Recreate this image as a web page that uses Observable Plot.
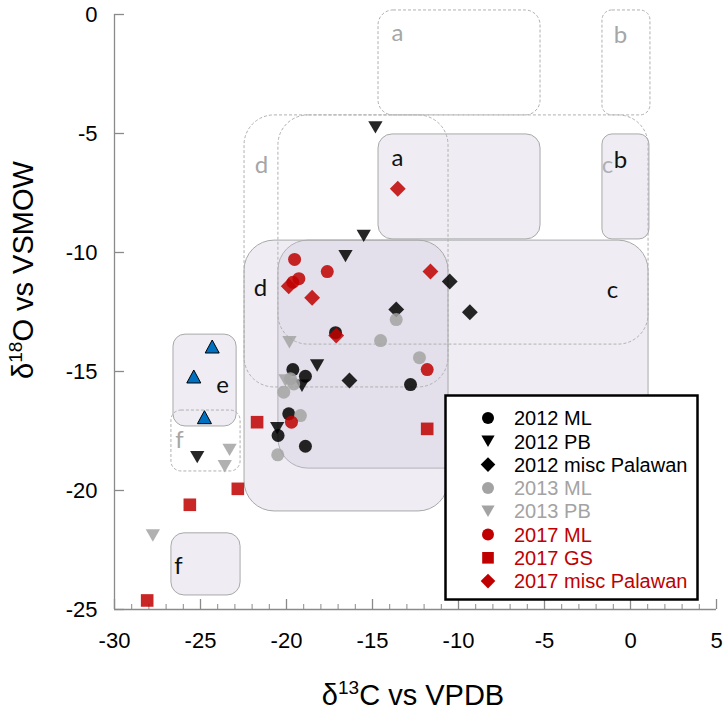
<!DOCTYPE html>
<html><head><meta charset="utf-8">
<script src="https://cdn.jsdelivr.net/npm/d3@7"></script>
<script src="https://cdn.jsdelivr.net/npm/@observablehq/plot@0.6"></script>
<style>
body{margin:0;background:#fff;}
#wrap{position:relative;width:724px;height:712px;}
</style></head><body><div id="wrap"></div>
<script>
// ---------- data ----------
const seriesNames = ["2012 ML","2012 PB","2012 misc Palawan","2013 ML","2013 PB","2017 ML","2017 GS","2017 misc Palawan"];
const seriesColors = ["#000000","#000000","#000000","#a3a3a3","#a3a3a3","#c00000","#c00000","#c00000"];
const seriesShapes = ["circle","triangleDown","diamond","circle","triangleDown","circle","square","diamond"];

const x2012ML = [-19.63,-18.90,-17.15,-12.79,-19.87,-20.49,-18.90];
const y2012ML = [-14.92,-15.20,-13.37,-15.55,-16.78,-17.69,-18.14];
const x2012PB = [-14.83,-15.51,-16.57,-18.22,-19.10,-20.54,-25.19];
const y2012PB = [-4.74,-9.30,-10.15,-14.75,-15.60,-17.38,-18.60];
const x2012misc = [-10.51,-9.34,-13.62,-16.34];
const y2012misc = [-11.22,-12.51,-12.39,-15.38];
const x2013ML = [-13.62,-14.53,-12.27,-19.77,-19.58,-20.16,-19.19,-20.51];
const y2013ML = [-12.82,-13.70,-14.42,-15.30,-15.52,-15.87,-16.85,-18.50];
const x2013PB = [-19.83,-20.06,-23.31,-23.59,-27.77];
const y2013PB = [-13.77,-15.38,-18.29,-18.98,-21.89];
const x2017ML = [-19.53,-17.63,-19.28,-19.63,-11.82,-19.71];
const y2017ML = [-10.29,-10.80,-11.10,-11.25,-14.92,-17.13];
const x2017GS = [-21.71,-11.82,-22.83,-25.62,-28.10];
const y2017GS = [-17.13,-17.41,-19.93,-20.60,-24.62];
const x2017misc = [-13.53,-11.63,-19.87,-18.51,-17.11];
const y2017misc = [-7.32,-10.80,-11.42,-11.90,-13.49];
const xBlue = [-24.32,-25.39,-24.77];
const yBlue = [-13.95,-15.21,-16.92];

const seriesX = [x2012ML,x2012PB,x2012misc,x2013ML,x2013PB,x2017ML,x2017GS,x2017misc];
const seriesY = [y2012ML,y2012PB,y2012misc,y2013ML,y2013PB,y2017ML,y2017GS,y2017misc];

// regions (solid = filled, dashed = outline only)
const solidNames = ["a","b","c","d","e","f"];
const solidX1 = [-14.65,-1.63,-20.47,-22.44,-26.57,-26.69];
const solidX2 = [-5.23,1.10,1.05,-10.58,-22.90,-22.67];
const solidY1 = [-9.45,-9.45,-19.08,-20.88,-17.31,-24.41];
const solidY2 = [-5.04,-5.04,-9.50,-9.50,-13.45,-21.80];
const solidR = [14,10,30,30,12,13];
const solidLabelX = [-13.55,-0.58,-1.05,-21.51,-23.72,-26.28];
const solidLabelY = [-6.05,-6.13,-11.60,-11.51,-15.59,-23.19];

const dashNames = ["a","b","c","d","f"];
const dashX1 = [-14.65,-1.63,-20.47,-22.44,-26.69];
const dashX2 = [-5.23,1.16,1.05,-10.58,-22.67];
const dashY1 = [-4.24,-4.24,-13.87,-15.67,-19.20];
const dashY2 = [0.17,0.17,-4.24,-4.24,-16.64];
const dashR = [15,10,30,30,10];
const dashLabelX = [-13.55,-0.58,-1.34,-21.45,-26.22];
const dashLabelY = [-0.80,-0.88,-6.34,-6.34,-17.90];

const xTicks = [-30,-25,-20,-15,-10,-5,0,5];
const xMinorTicks = [-29,-28,-27,-26,-24,-23,-22,-21,-19,-18,-17,-16,-14,-13,-12,-11,-9,-8,-7,-6,-4,-3,-2,-1,1,2,3,4];
const yTicks = [0,-5,-10,-15,-20,-25];

// ---------- symbols ----------
const sym = {
  circle:{draw(c,size){const s=Math.sqrt(size/Math.PI);c.moveTo(s,0);c.arc(0,0,s,0,2*Math.PI);}},
  triangleDown:{draw(c,size){const s=Math.sqrt(size/Math.PI),w=1.1*s,h=0.95*s;c.moveTo(-w,-h);c.lineTo(w,-h);c.lineTo(0,h);c.closePath();}},
  triangleUp:{draw(c,size){const s=Math.sqrt(size/Math.PI),w=1.08*s,h=1.0*s;c.moveTo(0,-h);c.lineTo(w,h);c.lineTo(-w,h);c.closePath();}},
  diamond:{draw(c,size){const s=Math.sqrt(size/Math.PI),d=1.22*s;c.moveTo(0,-d);c.lineTo(d,0);c.lineTo(0,d);c.lineTo(-d,0);c.closePath();}},
  square:{draw(c,size){const s=Math.sqrt(size/Math.PI),d=0.97*s;c.rect(-d,-d,2*d,2*d);}}
};

// ---------- tables ----------
const solid = solidNames.map((n,i)=>({n,x1:solidX1[i],x2:solidX2[i],y1:solidY1[i],y2:solidY2[i],r:solidR[i],lx:solidLabelX[i],ly:solidLabelY[i]}));
const dashed = dashNames.map((n,i)=>({n,x1:dashX1[i],x2:dashX2[i],y1:dashY1[i],y2:dashY2[i],r:dashR[i],lx:dashLabelX[i],ly:dashLabelY[i]}));
const series = seriesNames.map((name,i)=>({name,color:seriesColors[i],shape:seriesShapes[i],pts:seriesX[i].map((x,j)=>({x,y:seriesY[i][j]}))}));
const blue = xBlue.map((x,j)=>({x,y:yBlue[j]}));

const W=724,H=712,ML=114,MR=8,MT=14,MB=103;
const FW=W-ML-MR, FH=H-MT-MB;
const axisColor="#8a8a8a";
const labelFont="Lato, 'Open Sans', sans-serif";

const marks = [];
// gray labels of dashed regions (under the fills)
marks.push(Plot.text(dashed,{x:"lx",y:"ly",text:"n",fill:"#a6a6a6",fontSize:24,fontFamily:labelFont}));
// filled regions
solid.forEach(d=>marks.push(Plot.rect([d],{x1:"x1",x2:"x2",y1:"y1",y2:"y2",fill:"rgb(203,197,216)",fillOpacity:0.31,stroke:"#a8a8a8",strokeWidth:1,rx:d.r,ry:d.r})));
// dashed regions
dashed.forEach(d=>marks.push(Plot.rect([d],{x1:"x1",x2:"x2",y1:"y1",y2:"y2",fill:"none",stroke:"#b0b0b0",strokeWidth:1,strokeDasharray:"3,2",rx:d.r,ry:d.r})));
// black labels
marks.push(Plot.text(solid,{x:"lx",y:"ly",text:"n",fill:"#111",fontSize:24,fontFamily:labelFont}));
// axes lines & ticks
marks.push(Plot.ruleX([-30],{stroke:axisColor,strokeWidth:1.3}));
marks.push(Plot.ruleY([-25],{stroke:axisColor,strokeWidth:1.3}));
marks.push(Plot.tickY(yTicks,{y:d=>d,stroke:axisColor,strokeWidth:1.3,insetRight:FW-10}));
marks.push(Plot.tickX(xTicks,{x:d=>d,stroke:axisColor,strokeWidth:1.3,insetTop:FH-10}));
marks.push(Plot.tickX(xMinorTicks,{x:d=>d,stroke:axisColor,strokeWidth:1,insetTop:FH-5}));
marks.push(Plot.axisX({ticks:xTicks,tickSize:0,tickPadding:23,tickFormat:d=>String(d),label:null,fontSize:22}));
marks.push(Plot.axisY({ticks:yTicks,tickSize:0,tickPadding:17,tickFormat:d=>String(d),label:null,fontSize:22}));
// points
marks.push(Plot.dot(blue,{x:"x",y:"y",symbol:sym.triangleUp,r:6.5,fill:"#0070c0",stroke:"#000",strokeWidth:1}));
series.forEach(s=>marks.push(Plot.dot(s.pts,{x:"x",y:"y",symbol:sym[s.shape],r:6.5,fill:s.color,fillOpacity:0.85})));

const plot = Plot.plot({
  width:W,height:H,marginLeft:ML,marginRight:MR,marginTop:MT,marginBottom:MB,
  x:{domain:[-30,5],label:null},
  y:{domain:[-25,0],label:null},
  style:{fontFamily:"'Liberation Sans', Arial, sans-serif",fontSize:"22px",color:"#000",background:"#fff",overflow:"visible"},
  marks
});
document.getElementById("wrap").appendChild(plot);

// axis titles with superscripts
const svg = d3.select(plot);
const tf = "'Liberation Sans', Arial, sans-serif";
const xt = svg.append("text").attr("transform","translate(413,705)").attr("text-anchor","middle").attr("font-size",29).attr("font-family",tf).attr("fill","#000");
xt.append("tspan").text("δ");
xt.append("tspan").attr("dy",-11).attr("font-size",19).text("13");
xt.append("tspan").attr("dy",11).text("C vs VPDB");
const yt = svg.append("text").attr("transform","translate(33,270) rotate(-90)").attr("text-anchor","middle").attr("font-size",29).attr("font-family",tf).attr("fill","#000");
yt.append("tspan").text("δ");
yt.append("tspan").attr("dy",-11).attr("font-size",19).text("18");
yt.append("tspan").attr("dy",11).text("O vs VSMOW");

// legend (inside plot area, overlaid)
const leg = d3.select("#wrap").append("svg").attr("width",255).attr("height",207)
  .style("position","absolute").style("left","444px").style("top","394px");
leg.append("rect").attr("x",1.5).attr("y",1.5).attr("width",252).attr("height",204).attr("fill","#fff").attr("stroke","#000").attr("stroke-width",2.5);
series.forEach((s,i)=>{
  const cy = 24 + i*23.3;
  const p = d3.path(); sym[s.shape].draw(p, Math.PI*6*6);
  leg.append("path").attr("transform",`translate(44,${cy})`).attr("d",p.toString()).attr("fill",s.color);
  leg.append("text").attr("x",70).attr("y",cy).attr("dy","0.36em").attr("font-size",20).attr("font-family",tf)
    .attr("fill", s.color==="#000000" ? "#000" : s.color).text(s.name);
});
</script></body></html>
